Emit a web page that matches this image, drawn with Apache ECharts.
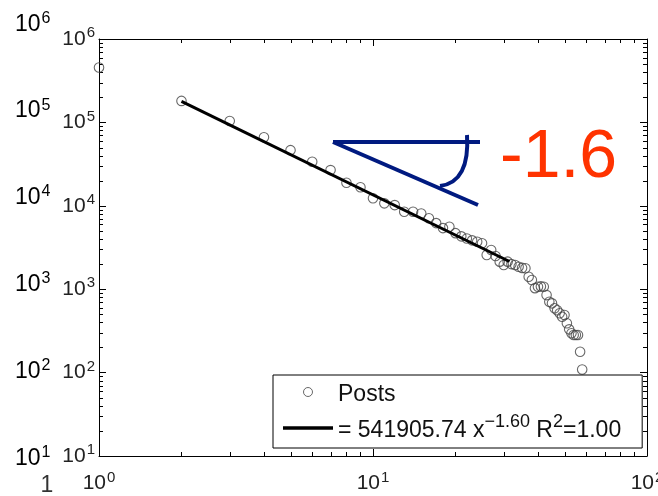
<!DOCTYPE html>
<html><head><meta charset="utf-8">
<script src="https://cdn.jsdelivr.net/npm/echarts@6/dist/echarts.min.js"></script>
<style>html,body{margin:0;padding:0;background:#fff}#c{width:658px;height:496px}</style>
</head><body><div id="c"></div>
<script>
// ---- data ----
const postsX = [1,2,3,4,5,6,7,8,9,10,11,12,13,14,15,16,17,18,19,20,21,22,23,24,25,26,27,28,29,30,31,32,33,34,35,36,37,38,39,40,41,42,43,44,45,46,47,48,49,50,51,52,53,54,55,56,57,58];
const postsY = [455000,181000,104000,66500,46500,33800,26800,18900,16700,12300,10700,10200,8500,8500,8100,7100,6200,5400,5600,4700,4300,4050,3850,3700,3550,2570,2950,2500,2140,1950,2140,2000,1950,1860,1800,1780,1410,1290,1030,1070,1080,1070,850,708,677,590,560,514,468,491,390,330,296,282,282,282,178,109];
const fitX = [2, 31.5];
const fitY = [179000, 2150];
const xMinorTicks = [2,3,4,5,6,7,8,9,20,30,40,50,60,70,80,90];
const yMinorTicks = [20,30,40,50,60,70,80,90,200,300,400,500,600,700,800,900,2000,3000,4000,5000,6000,7000,8000,9000,20000,30000,40000,50000,60000,70000,80000,90000,200000,300000,400000,500000,600000,700000,800000,900000];
const outerExponents = ['6','5','4','3','2','1'];
const outerLast = '1';
const seriesNames = ['Posts', 'fit'];
const fitCoef = '541905.74';
const fitExp = '\u22121.60';
const fitR2 = '1.00';
const slopeText = '-1.6';

const FONT = '"Liberation Sans", Arial, sans-serif';
const NAVY = '#001A80';
const supRich = (col, big, small) => ({
  b: {fontSize: big, lineHeight: big, verticalAlign: 'bottom', color: col, fontFamily: FONT},
  s: {fontSize: small, lineHeight: small, padding: [0, 0, 12, 1], color: col, fontFamily: FONT}
});
const powLabel = v => '{b|10}{s|' + Math.round(Math.log10(v)) + '}';

const chart = echarts.init(document.getElementById('c'), null, {renderer: 'canvas'});
const gridL = 99, gridT = 39, gridW = 548, gridH = 417;

function minorX(params, api) {
  const v = api.value(0);
  const b = api.coord([v, 10]);
  const t = api.coord([v, 1e6]);
  const x = Math.round(b[0]) + 0.5;
  return {type: 'group', children: [
    {type: 'line', shape: {x1: x, y1: b[1], x2: x, y2: b[1] - 4}, style: {stroke: '#000', lineWidth: 1}},
    {type: 'line', shape: {x1: x, y1: t[1], x2: x, y2: t[1] + 4}, style: {stroke: '#000', lineWidth: 1}}
  ]};
}
function minorY(params, api) {
  const v = api.value(1);
  const l = api.coord([1, v]);
  const r = api.coord([100, v]);
  const y = Math.round(l[1]) + 0.5;
  return {type: 'group', children: [
    {type: 'line', shape: {x1: l[0], y1: y, x2: l[0] + 4, y2: y}, style: {stroke: '#000', lineWidth: 1}},
    {type: 'line', shape: {x1: r[0], y1: y, x2: r[0] - 4, y2: y}, style: {stroke: '#000', lineWidth: 1}}
  ]};
}

const axisCommon = {
  type: 'log', logBase: 10,
  axisLine: {show: true, onZero: false, lineStyle: {color: '#000', width: 1}},
  axisTick: {show: true, inside: true, length: 7, lineStyle: {color: '#000', width: 1}},
  splitLine: {show: false},
  minorTick: {show: false},
  minorSplitLine: {show: false}
};

const graphics = [];
outerExponents.forEach((e, i) => {
  graphics.push({type: 'text', x: 15, y: 26.7 + i * 86.9 - 2.5, silent: true,
    style: {text: '{b|10}{s|' + e + '}', rich: supRich('#333', 23, 16), align: 'left', verticalAlign: 'middle'}});
});
graphics.push({type: 'text', x: 47, y: 486, silent: true,
  style: {text: outerLast, fontSize: 23, fontFamily: FONT, fill: '#333', align: 'center', verticalAlign: 'middle'}});
graphics.push({type: 'line', silent: true, shape: {x1: 333, y1: 142, x2: 480, y2: 142}, style: {stroke: NAVY, lineWidth: 4}});
graphics.push({type: 'line', silent: true, shape: {x1: 333, y1: 142, x2: 478, y2: 205}, style: {stroke: NAVY, lineWidth: 4}});
graphics.push({type: 'bezierCurve', silent: true, shape: {x1: 467, y1: 135, cpx1: 470, cpy1: 182, x2: 440, y2: 186}, style: {stroke: NAVY, lineWidth: 4, fill: null}});
graphics.push({type: 'text', silent: true, x: 500, y: 158, style: {text: slopeText, fontSize: 68, fontFamily: FONT, fill: '#FF3300', align: 'left', verticalAlign: 'middle'}});

chart.setOption({
  animation: false,
  backgroundColor: '#fff',
  grid: {left: gridL, top: gridT, width: gridW, height: gridH, containLabel: false, outerBoundsMode: 'none'},
  xAxis: [
    Object.assign({}, axisCommon, {min: 1, max: 100, position: 'bottom',
      axisLabel: {show: true, margin: 17, formatter: powLabel, rich: supRich('#222', 21, 15)}}),
    Object.assign({}, axisCommon, {min: 1, max: 100, position: 'top', axisLabel: {show: false}})
  ],
  yAxis: [
    Object.assign({}, axisCommon, {min: 10, max: 1e6, position: 'left',
      axisLabel: {show: true, margin: 4, formatter: powLabel, rich: supRich('#222', 21, 15)}}),
    Object.assign({}, axisCommon, {min: 10, max: 1e6, position: 'right', axisLabel: {show: false}})
  ],
  legend: {
    data: [{name: seriesNames[0]}, {name: seriesNames[1], icon: 'path://M0,0H50V3.5H0Z'}],
    orient: 'vertical', left: 273, top: 375,
    backgroundColor: '#fff', borderColor: '#000', borderWidth: 1,
    padding: [8, 21, 5, 10], itemGap: 7, itemWidth: 50, itemHeight: 9, itemTextGap: 5,
    selectedMode: false,
    itemStyle: {borderWidth: 1},
    formatter: n => n === 'Posts' ? '{t|Posts}' : '{t|= ' + fitCoef + ' x}{s|' + fitExp + '}{t| R}{s|2}{t|=' + fitR2 + '}',
    textStyle: {
      rich: {
        t: {fontSize: 23, lineHeight: 28, verticalAlign: 'bottom', color: '#111', fontFamily: FONT},
        s: {fontSize: 18, lineHeight: 18, padding: [0, 0, 12, 0], color: '#111', fontFamily: FONT}
      }
    }
  },
  graphic: graphics,
  series: [
    {name: 'Posts', type: 'scatter', xAxisIndex: 0, yAxisIndex: 0, symbol: 'circle', symbolSize: 9.5, clip: false,
      itemStyle: {color: 'rgba(0,0,0,0)', borderColor: '#444', borderWidth: 1.1},
      data: postsX.map((x, i) => [x, postsY[i]]), z: 2},
    {name: 'fit', type: 'line', xAxisIndex: 0, yAxisIndex: 0, symbol: 'none', showSymbol: false,
      lineStyle: {color: '#000', width: 3}, itemStyle: {color: '#000'},
      data: fitX.map((x, i) => [x, fitY[i]]), z: 3},
    {type: 'custom', silent: true, clip: false, renderItem: minorX, data: xMinorTicks.map(v => [v, 10]), z: 1},
    {type: 'custom', silent: true, clip: false, renderItem: minorY, data: yMinorTicks.map(v => [1, v]), z: 1}
  ]
});
</script></body></html>
